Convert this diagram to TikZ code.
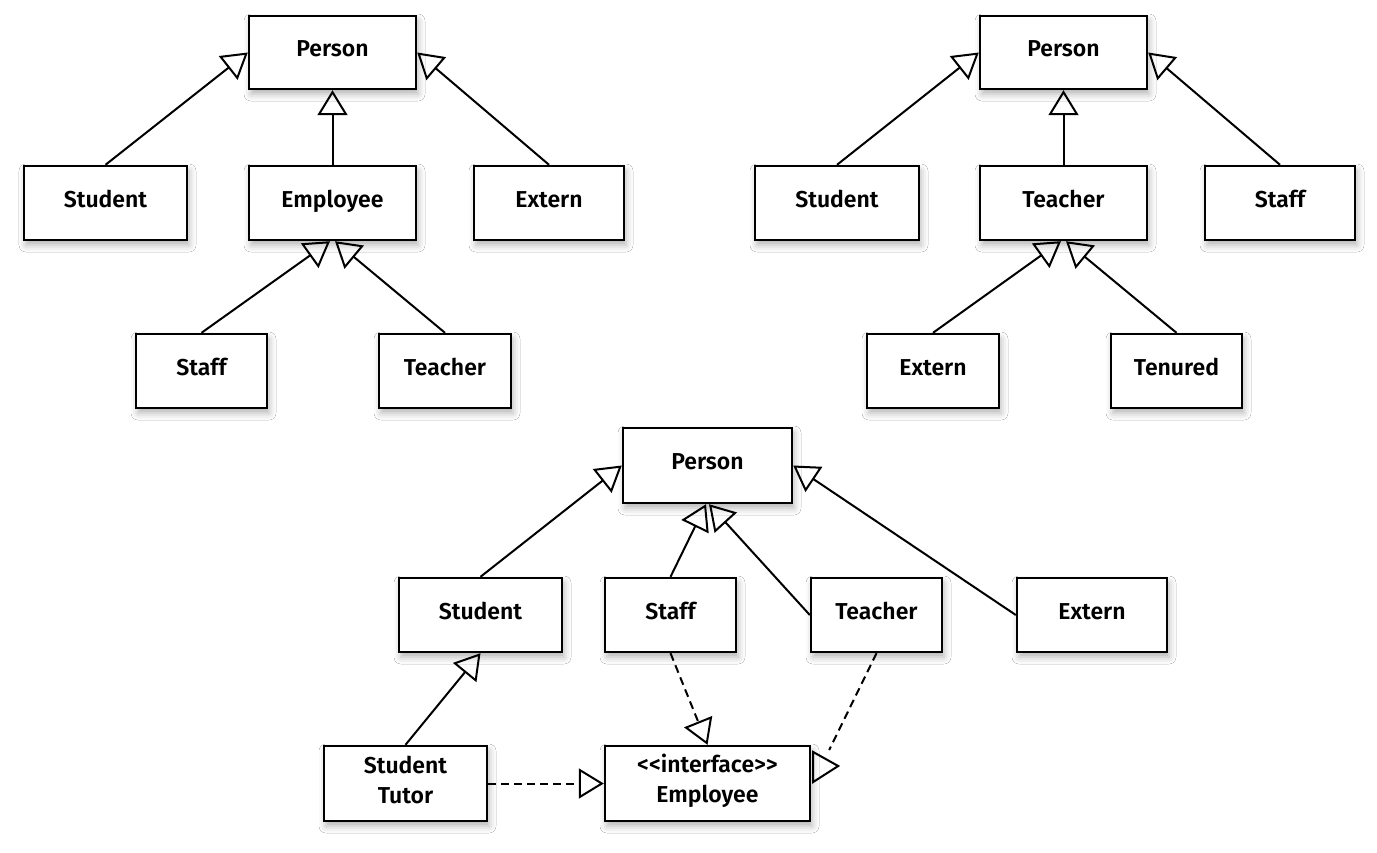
\documentclass[tikz,border=0pt]{standalone}
\usepackage{fontspec}
\setmainfont{Fira Sans}[BoldFont={Fira Sans SemiBold}]
\usetikzlibrary{arrows.meta,calc,shadows.blur}
\tikzset{
  box/.style={draw=black, fill=white, line width=2.4pt, inner sep=0pt,
    font=\fontsize{23}{30}\selectfont\bfseries,
    blur shadow={shadow xshift=2pt, shadow yshift=-5pt, shadow blur radius=7pt, shadow opacity=30}},
  onel/.style={text height=16pt, text depth=8pt},
  inh/.style={line width=2pt, -{Triangle[open, length=25pt, width=30pt, line width=2pt]}},
  real/.style={inh, dash pattern=on 8pt off 5pt},
}
\begin{document}
\begin{tikzpicture}[x=1pt, y=-1pt]
\useasboundingbox (0,0) rectangle (1377,852);
\fill[white] (0,0) rectangle (1377,852);
% top left
\node[box, onel, minimum width=167pt, minimum height=73pt] (p1) at (332.5,52.5) {Person};
\node[box, onel, minimum width=163pt, minimum height=74pt] (s1) at (105.5,203) {Student};
\node[box, onel, minimum width=167pt, minimum height=74pt] (e1) at (332.5,203) {Employee};
\node[box, onel, minimum width=150pt, minimum height=74pt] (x1) at (549,203) {Extern};
\node[box, onel, minimum width=131pt, minimum height=74pt] (f1) at (201.5,371) {Staff};
\node[box, onel, minimum width=132pt, minimum height=74pt] (t1) at (445,371) {Teacher};
% top right
\node[box, onel, minimum width=167pt, minimum height=73pt] (p2) at (1063.5,52.5) {Person};
\node[box, onel, minimum width=164pt, minimum height=74pt] (s2) at (837,203) {Student};
\node[box, onel, minimum width=167pt, minimum height=74pt] (t2) at (1063.5,203) {Teacher};
\node[box, onel, minimum width=150pt, minimum height=74pt] (f2) at (1280,203) {Staff};
\node[box, onel, minimum width=132pt, minimum height=74pt] (x2) at (933,371) {Extern};
\node[box, onel, minimum width=131pt, minimum height=74pt] (n2) at (1176.5,371) {Tenured};
% bottom
\node[box, onel, minimum width=169pt, minimum height=75pt] (p3) at (707.5,465.5) {Person};
\node[box, onel, minimum width=163pt, minimum height=74pt] (s3) at (480.5,615) {Student};
\node[box, onel, minimum width=131pt, minimum height=74pt] (f3) at (670.5,615) {Staff};
\node[box, onel, minimum width=131pt, minimum height=74pt] (t3) at (876.5,615) {Teacher};
\node[box, onel, minimum width=150pt, minimum height=74pt] (x3) at (1092,615) {Extern};
\node[box, align=center, minimum width=163pt, minimum height=75pt] (u3) at (405.5,783.5) {Student\\Tutor\\[-22pt]\mbox{}};
\node[box, align=center, minimum width=205pt, minimum height=75pt] (e3) at (707.5,783.5) {<\kern0pt<interface>\kern0pt>\\Employee\\[-20pt]\mbox{}};
% connectors top left
\draw[inh] (s1.north) -- (p1.west);
\draw[inh] (e1.north) -- (p1.south);
\draw[inh] (x1.north) -- (p1.east);
\draw[inh] (f1.north) -- ([xshift=-2.5pt]e1.south);
\draw[inh] (t1.north) -- ([xshift=2.5pt]e1.south);
% connectors top right
\draw[inh] (s2.north) -- (p2.west);
\draw[inh] (t2.north) -- (p2.south);
\draw[inh] (f2.north) -- (p2.east);
\draw[inh] (x2.north) -- ([xshift=-2.5pt]t2.south);
\draw[inh] (n2.north) -- ([xshift=2.5pt]t2.south);
% connectors bottom
\draw[inh] (s3.north) -- (p3.west);
\draw[inh] (f3.north) -- ([xshift=-1.5pt]p3.south);
\draw[inh] (t3.west) -- ([xshift=1.5pt]p3.south);
\draw[inh] (x3.west) -- (p3.east);
\draw[inh] (u3.north) -- (s3.south);
\draw[real] (f3.south) -- (e3.north);
\draw[real] (u3.east) -- (e3.west);
\coordinate (tend) at ($(e3.east)+(18,-33.5)$);
\draw[line width=2pt, dash pattern=on 8pt off 5pt] (t3.south) -- (tend);
\draw[line width=2pt, line join=miter] ($(e3.east)+(2,-31.5)$) -- ($(e3.east)+(27,-17.5)$) -- ($(e3.east)+(2,-1.5)$) -- cycle;
\end{tikzpicture}
\end{document}
